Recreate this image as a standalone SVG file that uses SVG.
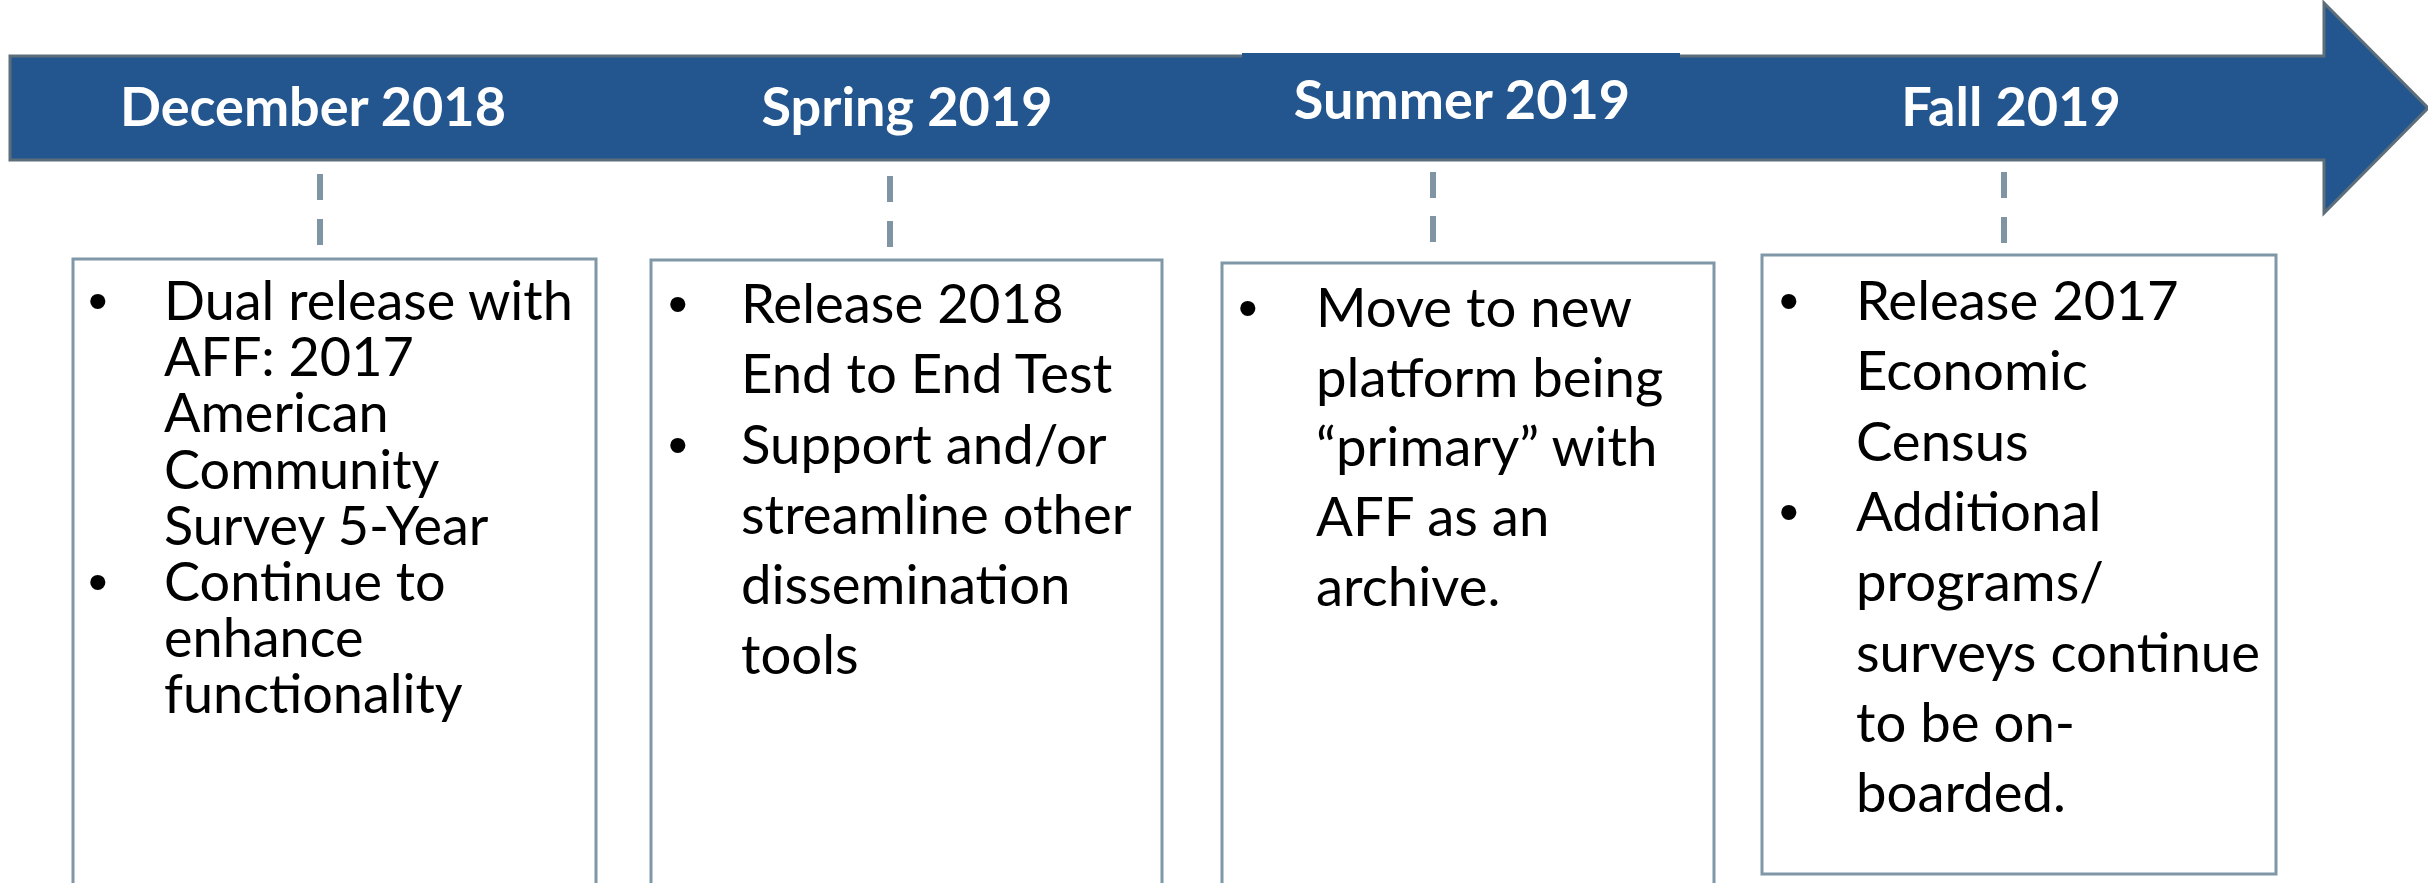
<svg xmlns="http://www.w3.org/2000/svg" width="2428" height="883" viewBox="0 0 2428 883">
<style>
.hd{font-family:Lato,"Liberation Sans",sans-serif;font-weight:700;font-size:54px;fill:#ffffff;text-anchor:middle}
.bd{font-family:Lato,"Liberation Sans",sans-serif;font-size:54.5px;fill:#000000}
.b1{font-size:54px}
.bl{font-family:"Liberation Sans",Arial,sans-serif;font-size:56px;fill:#000000}
.box{fill:#ffffff;stroke:#7f97a6;stroke-width:3}
.dash{stroke:#7f95a3;stroke-width:6;fill:none}
</style>
<rect width="2428" height="883" fill="#ffffff"/>
<g id="timeline">
<polygon points="10,56 2324,56 2324,3 2428,108 2324,213 2324,160 10,160" fill="#23568f" stroke="#5d6e7b" stroke-width="3"/>
<rect x="1242" y="53" width="438" height="100" fill="#23568f"/>
</g>
<g id="connectors">
<line class="dash" x1="320" y1="174" x2="320" y2="200"/>
<line class="dash" x1="320" y1="219" x2="320" y2="245"/>
<line class="dash" x1="890" y1="176" x2="890" y2="202"/>
<line class="dash" x1="890" y1="221" x2="890" y2="247"/>
<line class="dash" x1="1433" y1="172" x2="1433" y2="198"/>
<line class="dash" x1="1433" y1="216" x2="1433" y2="242"/>
<line class="dash" x1="2004" y1="172" x2="2004" y2="198"/>
<line class="dash" x1="2004" y1="217" x2="2004" y2="243"/>
</g>
<g id="h-dec"><text class="hd" x="313" y="126">December 2018</text></g>
<g id="h-spr"><text class="hd" x="907" y="126">Spring 2019</text></g>
<g id="h-sum"><text class="hd" x="1462" y="119">Summer 2019</text></g>
<g id="h-fall"><text class="hd" x="2011" y="126">Fall 2019</text></g>
<g id="box-dec">
<rect class="box" x="73" y="259" width="523" height="640"/>
<text class="bl" x="88" y="320">•</text>
<text class="bl" x="88" y="601">•</text>
<text class="bd b1" x="164" y="320">Dual release with</text>
<text class="bd b1" x="164" y="376">AFF: 2017</text>
<text class="bd b1" x="164" y="432">American</text>
<text class="bd b1" x="164" y="489">Community</text>
<text class="bd b1" x="164" y="545">Survey 5-Year</text>
<text class="bd b1" x="164" y="601">Continue to</text>
<text class="bd b1" x="164" y="657">enhance</text>
<text class="bd b1" x="164" y="713">functionality</text>
</g>
<g id="box-spr">
<rect class="box" x="651" y="260" width="511" height="640"/>
<text class="bl" x="668" y="323">•</text>
<text class="bl" x="668" y="464">•</text>
<text class="bd" x="741" y="323">Release 2018</text>
<text class="bd" x="741" y="393">End to End Test</text>
<text class="bd" x="741" y="464">Support and/or</text>
<text class="bd" x="741" y="534">streamline other</text>
<text class="bd" x="741" y="604">dissemination</text>
<text class="bd" x="741" y="674">tools</text>
</g>
<g id="box-sum">
<rect class="box" x="1222" y="263" width="492" height="640"/>
<text class="bl" x="1238" y="327">•</text>
<text class="bd" x="1316" y="327">Move to new</text>
<text class="bd" x="1316" y="397">platform being</text>
<text class="bd" x="1316" y="466">“primary” with</text>
<text class="bd" x="1316" y="536">AFF as an</text>
<text class="bd" x="1316" y="606">archive.</text>
</g>
<g id="box-fall">
<rect class="box" x="1762" y="255" width="514" height="619"/>
<text class="bl" x="1779" y="320">•</text>
<text class="bl" x="1779" y="531">•</text>
<text class="bd" x="1856" y="320">Release 2017</text>
<text class="bd" x="1856" y="390">Economic</text>
<text class="bd" x="1856" y="461">Census</text>
<text class="bd" x="1856" y="531">Additional</text>
<text class="bd" x="1856" y="601">programs/</text>
<text class="bd" x="1856" y="672">surveys continue</text>
<text class="bd" x="1856" y="742">to be on-</text>
<text class="bd" x="1856" y="812">boarded.</text>
</g>
</svg>
